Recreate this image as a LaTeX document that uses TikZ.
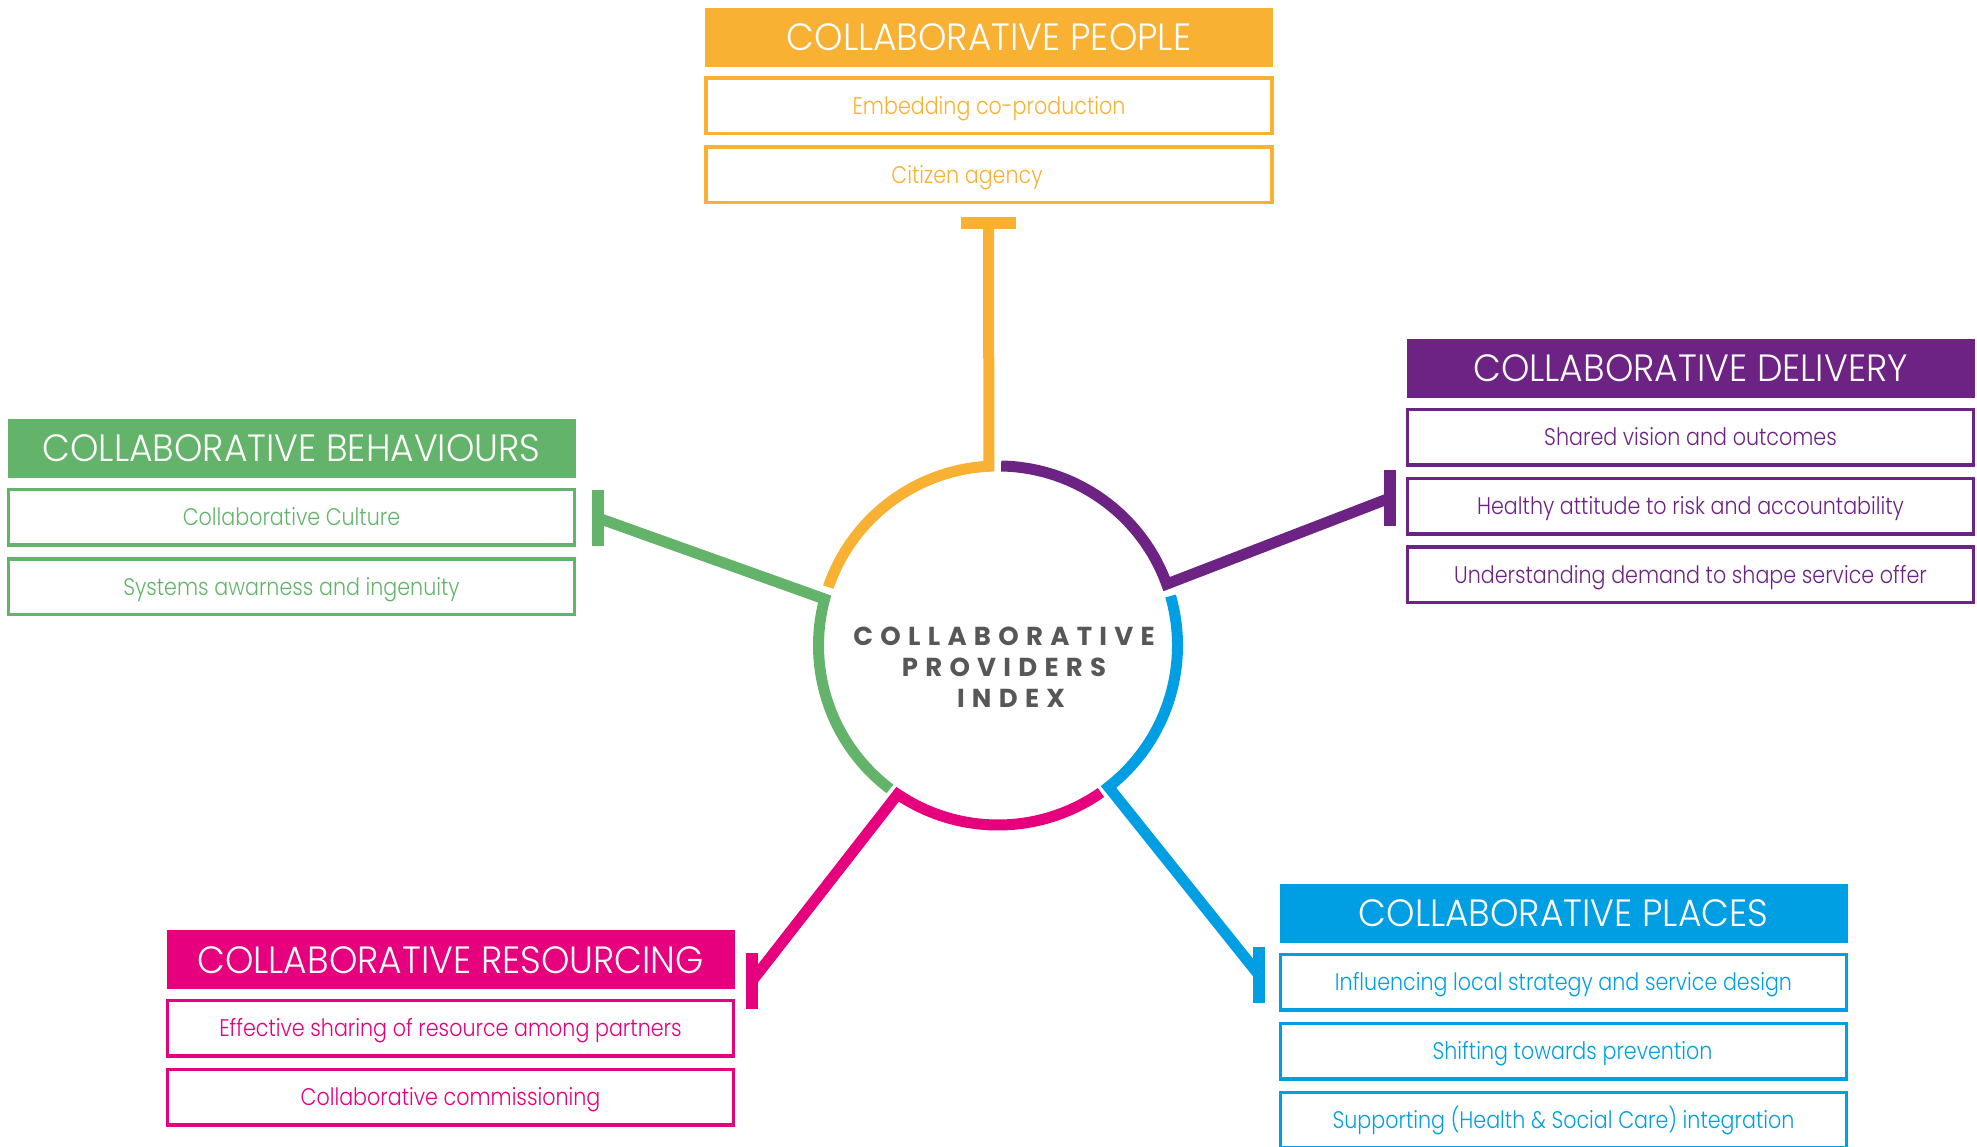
\documentclass[tikz,border=0pt]{standalone}
\usepackage{fontspec}
\setmainfont{Poppins}
\newfontfamily\headfont{Poppins Light}[FakeStretch=0.95]
\newfontfamily\itemfont{Poppins Light}[FakeStretch=0.86]
\newfontfamily\hubfont{Poppins}[LetterSpace=28]
\definecolor{cpYellow}{HTML}{F8B133}
\definecolor{cpPurple}{HTML}{6C2383}
\definecolor{cpGreen}{HTML}{63B46A}
\definecolor{cpMagenta}{HTML}{E6007E}
\definecolor{cpBlue}{HTML}{009FE3}
\definecolor{cpGrey}{HTML}{575756}
\begin{document}
\begin{tikzpicture}
    [x=1pt, y=1pt,
    HeadNode/.style={rectangle, fill=#1, text=white, minimum width=568pt, minimum height=59pt, inner sep=0pt, text height=26.5pt, text depth=0pt, font=\headfont\fontsize{38}{42}\selectfont},
    ItemNode/.style={rectangle, draw=#1, text=#1, line width=3.5pt, minimum width=566pt, minimum height=55.5pt, inner sep=0pt, text height=17pt, text depth=0pt, font=\itemfont\fontsize{24}{28}\selectfont},
    ArmLine/.style={draw=#1, line width=11pt},
    BarLine/.style={draw=#1, line width=12pt}]
     \useasboundingbox (0,0) rectangle (1977,1147);
     % people
     \node[HeadNode=cpYellow] (PeopleHead) at (989,1109.5){COLLABORATIVE PEOPLE};
     \node[ItemNode=cpYellow] (PeopleA) at (989,1041){Embedding co-production};
     \node[ItemNode=cpYellow] (PeopleB) at (989,972){\hspace*{-44pt}Citizen agency};
     % behaviours
     \node[HeadNode=cpGreen] (BehavHead) at (291.5,698.5){COLLABORATIVE BEHAVIOURS};
     \node[ItemNode=cpGreen] (BehavA) at (291.5,629.5){Collaborative Culture};
     \node[ItemNode=cpGreen] (BehavB) at (291.5,560){Systems awarness and ingenuity};
     % delivery
     \node[HeadNode=cpPurple] (DeliveryHead) at (1690.5,778.5){COLLABORATIVE DELIVERY};
     \node[ItemNode=cpPurple] (DeliveryA) at (1690.5,709.5){Shared vision and outcomes};
     \node[ItemNode=cpPurple] (DeliveryB) at (1690.5,640.5){Healthy attitude to risk and accountability};
     \node[ItemNode=cpPurple] (DeliveryC) at (1690.5,572){Understanding demand to shape service offer};
     % resourcing
     \node[HeadNode=cpMagenta] (ResourceHead) at (450.5,187){COLLABORATIVE RESOURCING};
     \node[ItemNode=cpMagenta] (ResourceA) at (450.5,118.5){Effective sharing of resource among partners};
     \node[ItemNode=cpMagenta] (ResourceB) at (450.5,49.5){Collaborative commissioning};
     % places
     \node[HeadNode=cpBlue] (PlacesHead) at (1563.5,233.5){COLLABORATIVE PLACES};
     \node[ItemNode=cpBlue] (PlacesA) at (1563.5,164.5){Influencing local strategy and service design};
     \node[ItemNode=cpBlue] (PlacesB) at (1563.5,95.5){\hspace*{18pt}Shifting towards prevention};
     \node[ItemNode=cpBlue] (PlacesC) at (1563.5,26.5){Supporting (Health \& Social Care) integration};
     % hub and arms
     \coordinate (Hub) at (998,501.5);
     \node[text=cpGrey, align=center, font=\hubfont\bfseries\fontsize{26}{31}\selectfont] (IndexLabel) at (1004,480){COLLABORATIVE\\PROVIDERS\\\hspace*{14pt}INDEX};
     \coordinate (PeopleBar) at (988.5,924);
     \coordinate (BehavBar) at (598,629);
     \coordinate (DeliveryBar) at (1390,649);
     \coordinate (PlacesBar) at (1259,172);
     \coordinate (ResourceBar) at (752,166);
     \coordinate (PeopleJoin) at ([shift={(92.9:179.5pt)}]Hub);
     \coordinate (BehavJoin) at ([shift={(165:179.5pt)}]Hub);
     \coordinate (DeliveryJoin) at ([shift={(20:179.5pt)}]Hub);
     \coordinate (PlacesJoin) at ([shift={(-52:179.5pt)}]Hub);
     \coordinate (ResourceJoin) at ([shift={(236:179.5pt)}]Hub);
     \draw[ArmLine=cpYellow] (PeopleBar) -- (PeopleJoin) arc[start angle=92.9, end angle=161, radius=179.5pt];
     \draw[ArmLine=cpGreen] (BehavBar) -- (BehavJoin) arc[start angle=165, end angle=233, radius=179.5pt];
     \draw[ArmLine=cpPurple] (DeliveryBar) -- (DeliveryJoin) arc[start angle=20, end angle=89, radius=179.5pt];
     \draw[ArmLine=cpBlue] (PlacesBar) -- (PlacesJoin) arc[start angle=-52, end angle=16, radius=179.5pt];
     \draw[ArmLine=cpMagenta] (ResourceBar) -- (ResourceJoin) arc[start angle=236, end angle=305, radius=179.5pt];
     \draw[BarLine=cpYellow] ([xshift=-27.5pt]PeopleBar) -- ([xshift=27.5pt]PeopleBar);
     \draw[BarLine=cpGreen] ([yshift=-28pt]BehavBar) -- ([yshift=28pt]BehavBar);
     \draw[BarLine=cpPurple] ([yshift=-28pt]DeliveryBar) -- ([yshift=28pt]DeliveryBar);
     \draw[BarLine=cpBlue] ([yshift=-28pt]PlacesBar) -- ([yshift=28pt]PlacesBar);
     \draw[BarLine=cpMagenta] ([yshift=-28pt]ResourceBar) -- ([yshift=28pt]ResourceBar);
\end{tikzpicture}
\end{document}
